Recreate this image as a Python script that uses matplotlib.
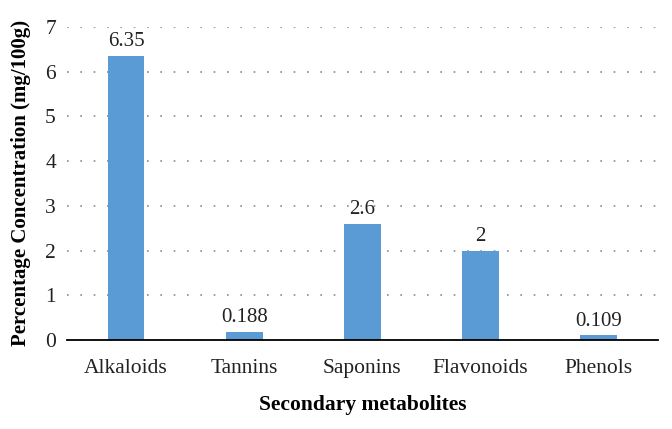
import matplotlib
matplotlib.use("Agg")
import matplotlib.pyplot as plt

# donnees
categories = ["Alkaloids", "Tannins", "Saponins", "Flavonoids", "Phenols"]
valeurs = [6.35, 0.188, 2.6, 2, 0.109]
etiquettes = ["6.35", "0.188", "2.6", "2", "0.109"]

plt.rcParams['font.family'] = ['Liberation Serif', 'DejaVu Serif']

fig = plt.figure(figsize=(6.72, 4.29), dpi=100)
ax = fig.add_axes([0.0997, 0.2075, 0.879, 0.73])

x = range(len(categories))
barres = ax.bar(x, valeurs, width=0.31, color="#5B9BD5", zorder=3)

for b, txt in zip(barres, etiquettes):
    ax.text(b.get_x() + b.get_width() / 2, b.get_height() + 0.1, txt,
            ha="center", va="bottom", fontsize=15, color="#222222")

ax.set_xlim(-0.5, 4.5)
ax.set_ylim(0, 7)
ax.set_yticks(range(8))
ax.set_xticks(list(x))
ax.set_xticklabels(categories)
ax.tick_params(axis="both", length=0, labelsize=15.5, colors="#222222")
ax.tick_params(axis="y", pad=8)
ax.tick_params(axis="x", pad=14)

ax.yaxis.grid(True, linestyle=(0, (1, 7)), color="#8a8a8a", linewidth=1.2, zorder=0)
for s in ["top", "right", "left"]:
    ax.spines[s].set_visible(False)
ax.spines["bottom"].set_color("black")
ax.spines["bottom"].set_linewidth(1.3)
ax.spines["bottom"].set_zorder(4)

ax.set_xlabel("Secondary metabolites", fontsize=15.5, fontweight="bold", labelpad=12)
ax.set_ylabel("Percentage Concentration (mg/100g)", fontsize=15, fontweight="bold", labelpad=10)

fig.savefig("out.png", dpi=100)
